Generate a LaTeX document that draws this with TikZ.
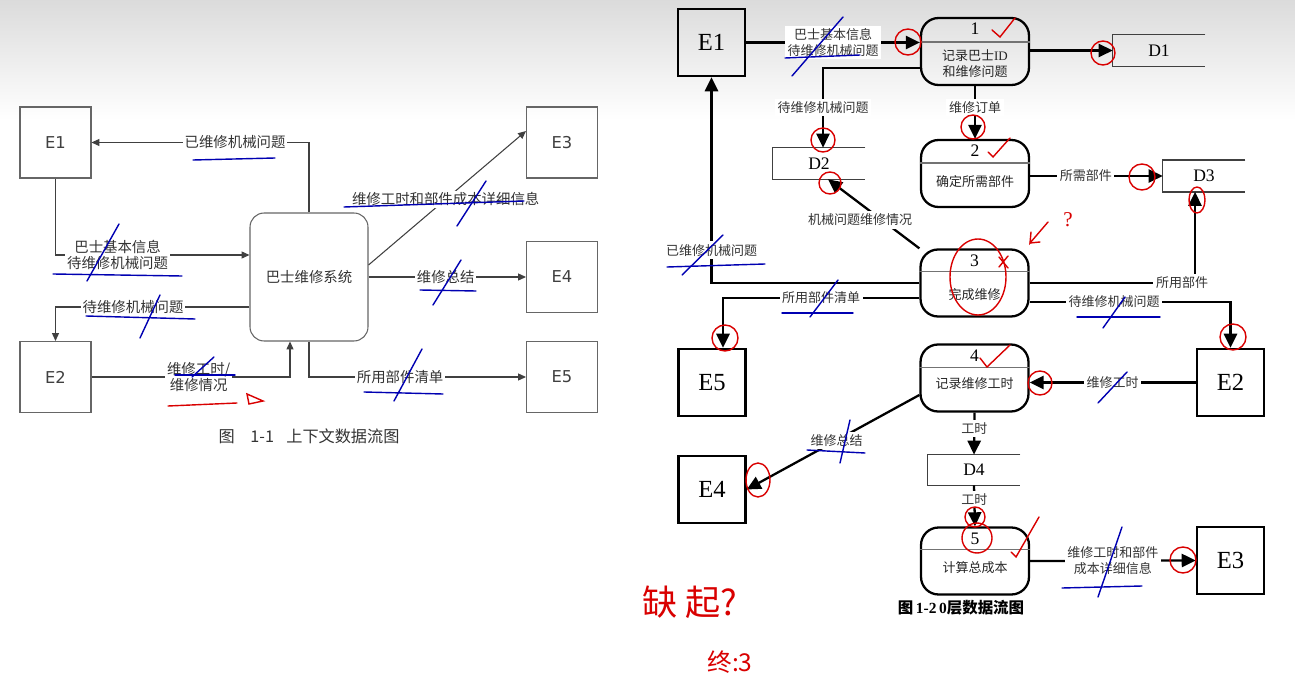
\documentclass[tikz,border=0pt]{standalone}
\usepackage{fontspec}
\setmainfont{Liberation Serif}
\newfontfamily\cjk{Noto Sans CJK SC}
\newfontfamily\dvs{DejaVu Sans}
\usetikzlibrary{arrows.meta}

\begin{document}
\begin{tikzpicture}[x=0.02cm,y=-0.02cm,
  ent/.style={draw=black!60,line width=0.6pt,minimum size=1.42cm,inner sep=0pt,
    font=\dvs\fontsize{9.3}{11}\selectfont,text=black!75},
  sys/.style={draw=black!60,line width=0.6pt,rounded corners=8pt,minimum width=2.36cm,
    minimum height=2.56cm,font=\cjk\fontsize{8.2}{10}\selectfont,text=black!80},
  cflow/.style={-{Triangle[length=4.5pt,width=4pt]},draw=black!75,line width=0.6pt},
  clbl/.style={fill=white,inner sep=1pt,align=center,font=\cjk\fontsize{8.2}{9.6}\selectfont,text=black!80},
  ext/.style={draw,line width=1.4pt,minimum size=1.34cm,inner sep=0pt,font=\fontsize{14}{14}\selectfont},
  proc/.style={draw,line width=1.3pt,rounded corners=10pt,minimum width=2.16cm,minimum height=1.34cm},
  store/.style={minimum width=1.84cm,minimum height=0.62cm,inner sep=0pt,font=\fontsize{10}{10}\selectfont},
  flow/.style={-{Triangle[length=8pt,width=7.5pt]},line width=1.3pt},
  lbl/.style={fill=white,inner sep=1.5pt,align=center,font=\cjk\fontsize{7.4}{9}\selectfont,text=black!80},
  num/.style={font=\fontsize{10}{10}\selectfont,inner sep=0pt},
  ptxt/.style={font=\cjk\fontsize{7.4}{9}\selectfont,align=center,inner sep=0pt,text=black!85},
  divider/.style={line width=0.8pt,black!55},
  shelf/.style={line width=0.9pt,black!75},
  pen/.style={blue!70!black,line width=0.8pt,line cap=round},
  ink/.style={red!85!black,line width=0.8pt,line cap=round}]
  \shade[top color=black!14,bottom color=white] (0,0) rectangle (1295,120);
  \fill[white] (0,120) rectangle (1295,682);
  \useasboundingbox (0,0) rectangle (1295,682);

  \node[ent] (ce1) at (55.5,142.5) {E1};
  \node[ent] (ce2) at (55.5,377) {E2};
  \node[ent] (ce3) at (562,142.5) {E3};
  \node[ent] (ce4) at (562,277) {E4};
  \node[ent] (ce5) at (562,377) {E5};
  \node[sys] (sys) at (309,277) {巴士维修系统};
  \draw[cflow] (sys.north) |- node[clbl,pos=0.67] {已维修机械问题} (ce1.east);
  \draw[cflow] (ce1.south) |- node[clbl,pos=0.66] {巴士基本信息\\待维修机械问题} ([yshift=0.44cm]sys.west);
  \draw[cflow] ([yshift=-0.6cm]sys.west) -| node[clbl,pos=0.3] {待维修机械问题} (ce2.north);
  \draw[cflow] (ce2.east) -| node[clbl,pos=0.27] {维修工时/\\维修情况} ([xshift=-0.38cm]sys.south);
  \draw[cflow] ([yshift=0.24cm]sys.east) -- node[clbl,pos=0.49] {维修工时和部件成本详细信息} ([yshift=0.23cm]ce3.west);
  \draw[cflow] (sys.east) -- node[clbl,pos=0.49] {维修总结} (ce4.west);
  \draw[cflow] (sys.south) |- node[clbl,pos=0.71] {所用部件清单} (ce5.west);
  \node[font=\cjk\fontsize{9.2}{10}\selectfont,text=black!80] (cap1) at (309,436) {图\hspace{9pt}1-1\hspace{7pt}上下文数据流图};

  \node[ext] (le1) at (711.5,42.5) {E1};
  \node[ext] (le5) at (712,382.5) {E5};
  \node[ext] (le4) at (712,489.5) {E4};
  \node[ext] (le2) at (1230.5,382.5) {E2};
  \node[ext] (le3) at (1230.5,560.5) {E3};

  \node[proc] (p1) at (975,51.5) {};
  \draw[divider] ([yshift=-0.5cm]p1.north west) -- ([yshift=-0.5cm]p1.north east);
  \node[num] (p1n) at ([yshift=-0.24cm]p1.north) {1};
  \node[ptxt] (p1t) at ([yshift=-0.24cm]p1.center) {记录巴士{\rmfamily ID}\\和维修问题};
  \node[proc] (p2) at (975,173.5) {};
  \draw[divider] ([yshift=-0.48cm]p2.north west) -- ([yshift=-0.48cm]p2.north east);
  \node[num] (p2n) at ([yshift=-0.24cm]p2.north) {2};
  \node[ptxt] (p2t) at ([yshift=-0.17cm]p2.center) {确定所需部件};
  \node[proc] (p3) at (974.5,283) {};
  \draw[divider] ([yshift=-0.46cm]p3.north west) -- ([yshift=-0.46cm]p3.north east);
  \node[num] (p3n) at ([yshift=-0.24cm]p3.north) {3};
  \node[ptxt] (p3t) at ([yshift=-0.24cm]p3.center) {完成维修};
  \node[proc] (p4) at (974.5,378) {};
  \draw[divider] ([yshift=-0.48cm]p4.north west) -- ([yshift=-0.48cm]p4.north east);
  \node[num] (p4n) at ([yshift=-0.24cm]p4.north) {4};
  \node[ptxt] (p4t) at ([yshift=-0.12cm]p4.center) {记录维修工时};
  \node[proc] (p5) at (975,561) {};
  \draw[divider] ([yshift=-0.46cm]p5.north west) -- ([yshift=-0.46cm]p5.north east);
  \node[num] (p5n) at ([yshift=-0.24cm]p5.north) {5};
  \node[ptxt] (p5t) at ([yshift=-0.14cm]p5.center) {计算总成本};

  \node[store] (d1) at (1159,50.5) {D1};
  \draw[shelf] (d1.north east) -- (d1.north west) -- (d1.south west) -- (d1.south east);
  \node[store] (d2) at (819,163.5) {D2};
  \draw[shelf] (d2.north east) -- (d2.north west) -- (d2.south west) -- (d2.south east);
  \node[store,minimum width=1.64cm] (d3) at (1204,176) {D3};
  \draw[shelf] (d3.north east) -- (d3.north west) -- (d3.south west) -- (d3.south east);
  \node[store,minimum height=0.6cm] (d4) at (974,470) {D4};
  \draw[shelf] (d4.north east) -- (d4.north west) -- (d4.south west) -- (d4.south east);

  \draw[flow] (le1.east) -- node[lbl] {巴士基本信息\\待维修机械问题} (le1.east -| p1.west);
  \draw[flow] (p1.east |- d1) -- (d1.west);
  \draw[flow] ([yshift=-0.33cm]p1.west) -| node[lbl,pos=0.75] {待维修机械问题} ([xshift=0.08cm]d2.north);
  \draw[flow] (p1.south) -- node[lbl,pos=0.4] {维修订单} (p2.north);
  \draw[flow] (p3.north west) -- ([xshift=0.18cm]d2.south);
  \node[lbl] (l1) at (860,220) {机械问题维修情况};
  \draw[flow] (p2.east |- d3) -- node[lbl,pos=0.42] {所需部件} (d3.west);
  \draw[flow] (p3.east) -| node[lbl,pos=0.5,xshift=-0.26cm] {所用部件} ([xshift=-0.18cm]d3.south);
  \draw[flow] (p3.west) -| node[lbl,pos=0.58] {已维修机械问题} (le1.south);
  \draw[flow] ([yshift=-0.3cm]p3.west) -| node[lbl,pos=0.25] {所用部件清单} ([xshift=0.22cm]le5.north);
  \draw[flow] ([yshift=-0.38cm]p3.east) -| node[lbl,pos=0.21] {待维修机械问题} (le2.north);
  \draw[flow] (le2.west) -- node[lbl] {维修工时} (le2.west -| p4.east);
  \draw[flow] ([yshift=-0.34cm]p4.west) -- node[lbl,pos=0.48] {维修总结} (le4.east);
  \draw[flow] (p4.south) -- node[lbl,pos=0.38] {工时} (d4.north);
  \draw[flow] (d4.south) -- node[lbl,pos=0.35] {工时} (p5.north);
  \draw[flow] (p5.east) -- node[lbl] {维修工时和部件\\成本详细信息} (le3.west);
  \node[font=\bfseries\fontsize{8.8}{9}\selectfont] (cap2) at (961,608) {{\cjk\bfseries 图}\,1-2\,0{\cjk\bfseries 层数据流图}};

  \draw[pen] (193,160) -- (275,158);
  \draw[pen] (53,274) -- (182,276);
  \draw[pen] (119,224) -- (87,281);
  \draw[pen] (86,316) -- (195,319);
  \draw[pen] (160,295) -- (140,338);
  \draw[pen] (175,375) -- (235,375);
  \draw[pen] (214,357) -- (192,377);
  \draw[pen] (364,392) -- (443,394);
  \draw[pen] (422,349) -- (394,401);
  \draw[pen] (420,290) -- (476,291);
  \draw[pen] (461,260) -- (433,305);
  \draw[pen] (344,207) -- (524,201);
  \draw[pen] (486,181) -- (457,226);
  \draw[ink] (168,406) -- (237,403);
  \draw[ink] (247,394) -- (263,401) -- (249,404) -- cycle;

  \draw[pen] (785,58) -- (860,55);
  \draw[pen] (843,17) -- (792,76);
  \draw[pen] (667,267) -- (765,264);
  \draw[pen] (723,235) -- (682,275);
  \draw[pen] (782,313) -- (853,313);
  \draw[pen] (838,280) -- (810,317);
  \draw[pen] (1077,317) -- (1160,317);
  \draw[pen] (1125,297) -- (1103,328);
  \draw[pen] (1127,372) -- (1098,403);
  \draw[pen] (807,450) -- (865,453);
  \draw[pen] (850,420) -- (840,463);
  \draw[pen] (1062,588) -- (1142,586);
  \draw[pen] (1122,527) -- (1098,597);

  \draw[ink] (908,42) circle[radius=0.26cm];
  \draw[ink] (823,140) circle[radius=0.24cm];
  \draw[ink] (830,183) circle[radius=0.22cm];
  \draw[ink] (973,127) circle[radius=0.24cm];
  \draw[ink] (1103,53) circle[radius=0.24cm];
  \draw[ink] (1142,177) circle[radius=0.26cm];
  \draw[ink] (1197,200) ellipse[x radius=0.16cm,y radius=0.26cm];
  \draw[ink] (978,277) ellipse[x radius=0.56cm,y radius=0.76cm];
  \draw[ink] (1233,337) circle[radius=0.26cm];
  \draw[ink] (1040,383) circle[radius=0.24cm];
  \draw[ink] (725,338) circle[radius=0.26cm];
  \draw[ink] (758,480) ellipse[x radius=0.24cm,y radius=0.34cm];
  \draw[ink] (975,517) circle[radius=0.2cm];
  \draw[ink] (977,538) circle[radius=0.3cm];
  \draw[ink] (1183,560) circle[radius=0.26cm];
  \draw[ink] (992,30) -- (1000,37) -- (1015,18);
  \draw[ink] (988,152) -- (993,157) -- (1010,138);
  \draw[ink] (980,358) -- (987,367) -- (1010,345);
  \draw[ink] (1011,552) -- (1016,557) -- (1039,517);
  \draw[ink] (999,257) -- (1008,268);
  \draw[ink] (1008,256) -- (999,267);
  \draw[ink] (1048,222) -- (1030,243) -- (1031,232);
  \draw[ink] (1030,243) -- (1040,242);
  \node[text=red!85!black,font=\fontsize{12}{12}\selectfont] (q1) at (1068,220) {?};
  \node[text=red!85!black,font=\cjk\fontsize{20}{20}\selectfont] (note1) at (690,602) {缺\ 起?};
  \node[text=red!85!black,font=\cjk\fontsize{14}{14}\selectfont] (note2) at (730,662) {终:3};
\end{tikzpicture}
\end{document}
